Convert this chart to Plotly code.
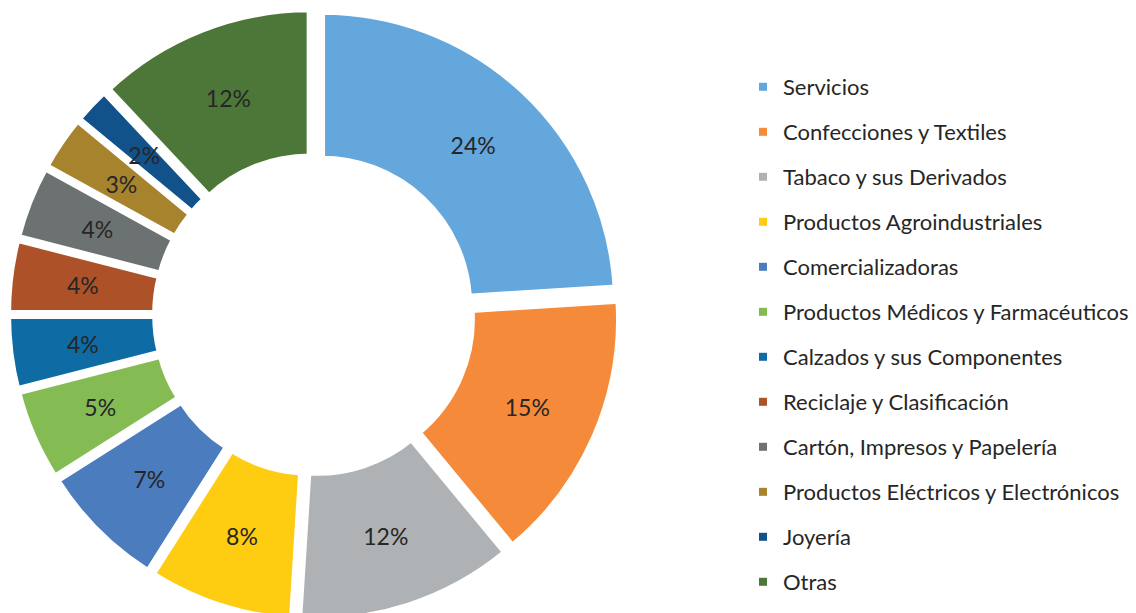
import plotly.graph_objects as go

categories = [
    "Servicios",
    "Confecciones y Textiles",
    "Tabaco y sus Derivados",
    "Productos Agroindustriales",
    "Comercializadoras",
    "Productos Médicos y Farmacéuticos",
    "Calzados y sus Componentes",
    "Reciclaje y Clasificación",
    "Cartón, Impresos y Papelería",
    "Productos Eléctricos y Electrónicos",
    "Joyería",
    "Otras",
]
shares = [24, 15, 12, 8, 7, 5, 4, 4, 4, 3, 2, 12]
colors = [
    "#64A7DC", "#F58B3A", "#AFB2B4", "#FECC10", "#4A7CBE", "#84BC53",
    "#0F6BA4", "#AD5228", "#6C7271", "#A8832E", "#12528A", "#4C7739",
]

W, H = 1136, 613
cx = 306          # pie centre in plot pixels
FONT = "Lato, Open Sans, sans-serif"
TXT = "#262626"
LBL = "%{percent:.0%}"

# big slices get their label from the main donut, small ones from a thin ring
big = [v >= 10 for v in shares]
tmpl_main = [LBL if b else "" for b in big]
tmpl_thin = ["" if b else LBL for b in big]

fig = go.Figure()

# main donut
fig.add_trace(go.Pie(
    labels=categories,
    values=shares,
    sort=False,
    direction="clockwise",
    rotation=0,
    hole=0.5,
    pull=[0.04] * len(shares),
    marker=dict(colors=colors, line=dict(color="white", width=6)),
    texttemplate=tmpl_main,
    textposition="inside",
    insidetextorientation="horizontal",
    textfont=dict(family=FONT, size=23, color=TXT),
    showlegend=False,
    domain=dict(x=[0, 2 * cx / W], y=[0, 1]),
    hoverinfo="label+percent",
))

# thin transparent ring carrying the small-slice labels at mid-ring radius
half2 = 244.6
fig.add_trace(go.Pie(
    labels=categories,
    values=shares,
    sort=False,
    direction="clockwise",
    rotation=0,
    hole=0.9,
    pull=[0.05] * len(shares),
    marker=dict(colors=["rgba(0,0,0,0)"] * len(shares), line=dict(width=0)),
    texttemplate=tmpl_thin,
    textposition="inside",
    insidetextorientation="horizontal",
    textfont=dict(family=FONT, size=23, color=TXT),
    showlegend=False,
    hoverinfo="skip",
    domain=dict(x=[(cx - half2) / W, (cx + half2) / W],
                y=[(H / 2 - half2) / H, (H / 2 + half2) / H]),
))

for name, col in zip(categories, colors):
    fig.add_trace(go.Scatter(
        x=[None], y=[None], mode="markers",
        marker=dict(symbol="square", size=8, color=col),
        name=name, legendgroup=name, showlegend=True,
    ))

fig.update_layout(
    width=W, height=H,
    margin=dict(l=0, r=0, t=0, b=0),
    paper_bgcolor="white", plot_bgcolor="white",
    uniformtext=dict(minsize=23, mode="show"),
    xaxis=dict(visible=False), yaxis=dict(visible=False),
    legend=dict(
        x=735 / W, xanchor="left",
        y=1 - 326.5 / H, yanchor="middle",
        font=dict(family=FONT, size=22, color=TXT),
        tracegroupgap=13.4,
        itemwidth=30,
        bgcolor="rgba(0,0,0,0)",
    ),
)

fig.write_html("out.html")
